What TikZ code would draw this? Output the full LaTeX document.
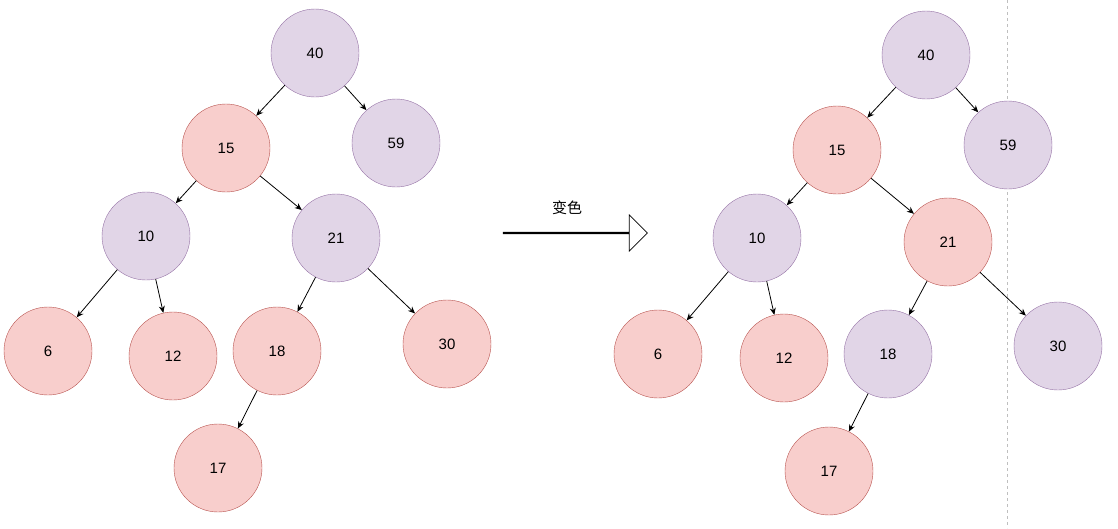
\documentclass[tikz,border=0pt]{standalone}
\usepackage{fontspec}
\setmainfont{Liberation Sans}
\newfontfamily\cjk{Noto Sans CJK SC}
\usetikzlibrary{shapes.arrows, arrows.meta}
\definecolor{purfill}{HTML}{E1D5E7}
\definecolor{purline}{HTML}{9673A6}
\definecolor{redfill}{HTML}{F8CECC}
\definecolor{redline}{HTML}{B85450}
\tikzset{
  pnode/.style={circle, draw=purline, fill=purfill, minimum size=88pt, inner sep=0pt, font=\fontsize{15}{18}\selectfont},
  rnode/.style={circle, draw=redline, fill=redfill, minimum size=88pt, inner sep=0pt, font=\fontsize{15}{18}\selectfont},
  link/.style={-{Stealth[length=7pt,width=6pt]}, line width=0.8pt}
}
\begin{document}
\begin{tikzpicture}[x=1pt, y=-1pt]
\useasboundingbox (0,0) rectangle (1118,528);
%the guide line
\draw [dashed, gray!50, line width=0.8pt] (1007,0) -- (1007,528);

%left tree
\node [pnode] (l40) at (315,53) {40};
\node [rnode] (l15) at (226,148) {15};
\node [pnode] (l59) at (396,143) {59};
\node [pnode] (l10) at (146,236) {10};
\node [pnode] (l21) at (336,238) {21};
\node [rnode] (l6) at (48,351) {6};
\node [rnode] (l12) at (173,356) {12};
\node [rnode] (l18) at (277,351) {18};
\node [rnode] (l30) at (447,344) {30};
\node [rnode] (l17) at (218,468) {17};
\draw [link] (l40) -- (l15);
\draw [link] (l40) -- (l59);
\draw [link] (l15) -- (l10);
\draw [link] (l15) -- (l21);
\draw [link] (l10) -- (l6);
\draw [link] (l10) -- (l12);
\draw [link] (l21) -- (l18);
\draw [link] (l21) -- (l30);
\draw [link] (l18) -- (l17);

%the recolouring
\node [single arrow, draw, fill=white, line width=0.8pt, minimum height=144pt, minimum width=36pt, single arrow head extend=11pt, inner sep=0pt] (recolor) at (575,233) {};
\node [font=\cjk\fontsize{15}{18}\selectfont] (recolortext) at (567,208) {变色};

%right tree
\node [pnode] (r40) at (926,55) {40};
\node [rnode] (r15) at (837,150) {15};
\node [pnode] (r59) at (1008,145) {59};
\node [pnode] (r10) at (757,238) {10};
\node [rnode] (r21) at (948,242) {21};
\node [rnode] (r6) at (658,354) {6};
\node [rnode] (r12) at (784,358) {12};
\node [pnode] (r18) at (888,354) {18};
\node [pnode] (r30) at (1058,346) {30};
\node [rnode] (r17) at (829,471) {17};
\draw [link] (r40) -- (r15);
\draw [link] (r40) -- (r59);
\draw [link] (r15) -- (r10);
\draw [link] (r15) -- (r21);
\draw [link] (r10) -- (r6);
\draw [link] (r10) -- (r12);
\draw [link] (r21) -- (r18);
\draw [link] (r21) -- (r30);
\draw [link] (r18) -- (r17);
\end{tikzpicture}
\end{document}
